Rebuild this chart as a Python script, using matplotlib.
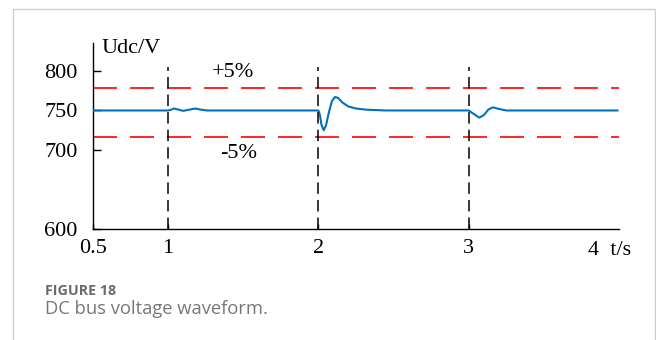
import numpy as np
import matplotlib
matplotlib.use('Agg')
import matplotlib.pyplot as plt
from matplotlib.patches import Rectangle

# DC bus voltage samples (t in s, Udc in V)
t = [0.5, 1.0, 1.02, 1.04, 1.07, 1.10, 1.14, 1.18, 1.22, 1.26,
     2.0, 2.01, 2.02, 2.035, 2.05, 2.07, 2.09, 2.11, 2.13, 2.16, 2.20, 2.25, 2.32, 2.45,
     3.0, 3.03, 3.07, 3.10, 3.13, 3.16, 3.20, 3.25, 3.99]
udc = [750, 750, 751, 752.5, 751, 749.5, 751, 752.5, 751, 750,
       750, 744, 732, 725, 731, 748, 762, 767, 766, 760, 755, 752.5, 751, 750,
       750, 746, 741, 744, 751, 754, 752, 750, 750]

upper_lim = 778
lower_lim = 717
events = [1, 2, 3]
yticks = [600, 700, 750, 800]
xticks = [0.5, 1, 2, 3]

serif = ['Liberation Serif', 'DejaVu Serif']
fs = 16

fig = plt.figure(figsize=(6.56, 3.40), dpi=100)
ax = fig.add_axes([0.1418, 0.3265, 0.8018, 0.547])

ax.plot(t, udc, color='#0072BD', lw=1.5, zorder=3)
ax.plot([0.5, 4.01], [upper_lim, upper_lim], color='#ff0000', lw=1.2,
        ls=(0, (14.4, 7.8)), zorder=2)
ax.plot([0.5, 4.01], [lower_lim, lower_lim], color='#ff0000', lw=1.2,
        ls=(0, (14.4, 7.8)), zorder=2)
for ev in events:
    ax.plot([ev, ev], [600, 805], color='black', lw=1.1,
            ls=(0, (7.5, 4)), zorder=4)

ax.set_xlim(0.5, 4)
ax.set_ylim(600, 835.4)
ax.spines['top'].set_visible(False)
ax.spines['right'].set_visible(False)
for s in ['left', 'bottom']:
    ax.spines[s].set_linewidth(1.0)

ax.set_yticks(yticks)
ax.set_yticklabels([str(v) for v in yticks], family=serif, fontsize=fs)
ax.tick_params(axis='y', direction='in', length=5.5, width=1.0, pad=11)
ax.set_xticks(xticks)
ax.set_xticklabels(['0.5', '1', '2', '3'], family=serif, fontsize=fs)
ax.tick_params(axis='x', direction='in', length=3.5, width=1.0, pad=7)

ax.text(0.555, 828, 'Udc/V', family=serif, fontsize=fs, va='center', ha='left')
ax.text(4.08, 600 - 15.5, '4  t/s', family=serif, fontsize=fs, ha='right', va='top')
ax.text(1.43, 797.5, '+5%', family=serif, fontsize=fs, ha='center', va='center')
ax.text(1.47, 696, '-5%', family=serif, fontsize=fs, ha='center', va='center')

# light frame and caption underneath
fig.patches.append(Rectangle((0.0194, -0.02), 0.979, 0.9926, transform=fig.transFigure,
                             fill=False, edgecolor='#cfcfcf', lw=1.0))
fig.text(0.0686, 0.144, 'FIGURE 18', family=['Open Sans', 'DejaVu Sans'],
         fontweight='bold', fontsize=10.3, color='#6b6b6b', va='center')
fig.text(0.0686, 0.091, 'DC bus voltage waveform.', family=['Open Sans', 'DejaVu Sans'],
         fontsize=13.2, color='#777777', va='center')

plt.savefig('out.png', dpi=100)
